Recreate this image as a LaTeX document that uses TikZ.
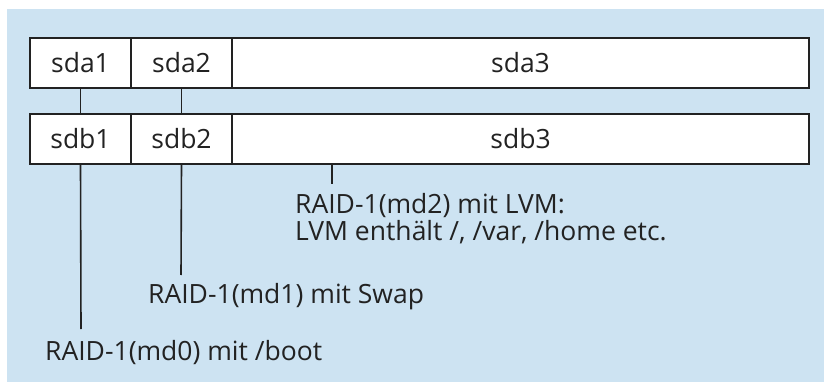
\documentclass[tikz,border=0pt]{standalone}
\usepackage{fontspec}
\setmainfont{Open Sans}
\definecolor{panelblue}{RGB}{205,227,242}
\definecolor{ink}{RGB}{34,34,34}
\begin{document}
\begin{tikzpicture}[x=1pt,y=-1pt,
  cell/.style={draw=ink, line width=1.6pt, fill=white, minimum height=50pt,
    inner sep=0pt, font=\fontsize{26.5}{27}\selectfont, text=ink},
  lbl/.style={inner sep=0pt, font=\fontsize{26.5}{27}\selectfont, text=ink, align=left},
  link/.style={draw=ink, line width=1.6pt}]
\useasboundingbox (0,0) rectangle (824,382);
\fill[panelblue] (7,9) rectangle (824,382);

% first disk
\node[cell, minimum width=101pt] (sda1) at (80.5,63) {sda1};
\node[cell, minimum width=101pt] (sda2) at (181.5,63) {sda2};
\node[cell, minimum width=577pt] (sda3) at (520.5,63) {sda3};
% second disk
\node[cell, minimum width=101pt] (sdb1) at (80.5,139) {sdb1};
\node[cell, minimum width=101pt] (sdb2) at (181.5,139) {sdb2};
\node[cell, minimum width=577pt] (sdb3) at (520.5,139) {sdb3};

% mirror links between partitions
\draw[link] (sda1.south) -- (sdb1.north);
\draw[link] (sda2.south) -- (sdb2.north);

% RAID arrays
\node[lbl, anchor=base west] (md0) at (45,360) {RAID-1(md0) mit /boot};
\node[lbl, anchor=base west] (md1) at (148,303) {RAID-1(md1) mit Swap};
\node[lbl, anchor=base west] (md2) at (295,240) {RAID-1(md2) mit LVM:\\LVM enthält /, /var, /home etc.};

\coordinate (e0) at (81,329);
\coordinate (e1) at (181,275);
\coordinate (s2) at (332,164);
\coordinate (e2) at (332,184);
\draw[link] (sdb1.south) -- (e0);
\draw[link] (sdb2.south) -- (e1);
\draw[link] (s2) -- (e2);
\end{tikzpicture}
\end{document}
